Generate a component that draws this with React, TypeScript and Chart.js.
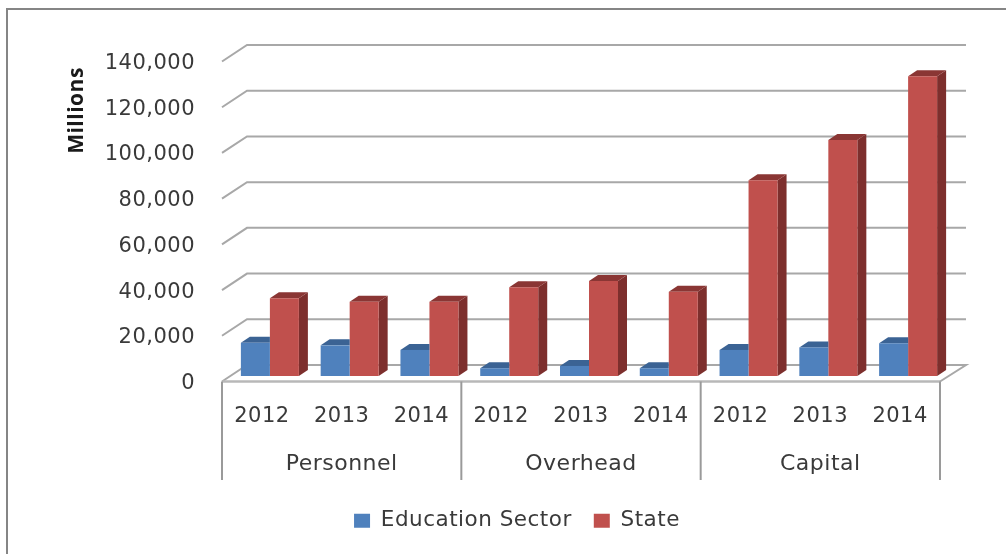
import React, { useEffect, useRef } from "react";
import { Chart, registerables } from "chart.js";

Chart.register(...registerables);

const yearLabels = ["2012", "2013", "2014", "2012", "2013", "2014", "2012", "2013", "2014"];
const groupLabels = ["Personnel", "Overhead", "Capital"];
const educationSector = [14600, 13400, 11400, 3400, 4400, 3400, 11400, 12500, 14300];
const stateValues = [34000, 32500, 32500, 38800, 41600, 36900, 85600, 103300, 131100];
const FONT = "'DejaVu Sans'";
const TEXT = "#3a3a3a";
const GRID = "#a8a8a8";

const shade: Record<string, { side: string; top: string }> = {
  "#4F81BD": { side: "#3a6090", top: "#3b6394" },
  "#C0504D": { side: "#7d2f2d", top: "#8a3634" },
};

const spacing = (chart: any) => {
  chart.ctx.letterSpacing = "0.5px";
};

const scene = {
  id: "scene",
  beforeInit: spacing,
  beforeLayout: spacing,
  beforeDraw(chart: any) {
    spacing(chart);
    const { ctx } = chart;
    ctx.save();
    ctx.strokeStyle = "#858585";
    ctx.lineWidth = 2;
    ctx.beginPath();
    ctx.moveTo(7, 560);
    ctx.lineTo(7, 9);
    ctx.lineTo(1010, 9);
    ctx.stroke();
    ctx.restore();
  },
  beforeDatasetsDraw(chart: any) {
    const { ctx, chartArea: a, scales } = chart;
    const y = scales.y;
    const base = y.getPixelForValue(0);
    ctx.save();
    ctx.strokeStyle = GRID;
    ctx.lineWidth = 2;
    y.ticks.forEach((t: any) => {
      const p = y.getPixelForValue(t.value);
      ctx.beginPath();
      ctx.moveTo(a.left - 8, p + 5.5);
      ctx.lineTo(a.left + 17, p - 11);
      ctx.lineTo(a.right + 18, p - 11);
      if (t.value === 0) {
        ctx.lineTo(a.right - 8, p + 5.5);
      }
      ctx.stroke();
    });
    ctx.strokeStyle = "#b8b8b8";
    ctx.lineWidth = 2.6;
    ctx.beginPath();
    ctx.moveTo(a.left - 8, base + 5.5);
    ctx.lineTo(a.right - 8, base + 5.5);
    ctx.stroke();
    ctx.strokeStyle = "#9a9a9a";
    ctx.lineWidth = 2;
    const n = groupLabels.length;
    for (let i = 0; i <= n; i++) {
      const x = a.left - 8 + ((a.right - a.left) * i) / n;
      ctx.beginPath();
      ctx.moveTo(x, base + 5.5);
      ctx.lineTo(x, 480);
      ctx.stroke();
    }
    ctx.restore();
  },
  beforeDatasetDraw(chart: any, args: any) {
    const { ctx } = chart;
    const ds = chart.data.datasets[args.index];
    const c = shade[ds.backgroundColor];
    const dx = 9;
    const dy = -6;
    // the first series stands directly in front of the second's left face,
    // so its side is hidden and its top stops at the neighbouring bar
    const hiddenSide = args.index === 0;
    ctx.save();
    args.meta.data.forEach((bar: any) => {
      const { x, y, base, width } = bar.getProps(["x", "y", "base", "width"], true);
      const l = x - width / 2;
      const r = x + width / 2;
      if (!hiddenSide) {
        ctx.fillStyle = c.side;
        ctx.beginPath();
        ctx.moveTo(r, y);
        ctx.lineTo(r + dx, y + dy);
        ctx.lineTo(r + dx, base + dy);
        ctx.lineTo(r, base);
        ctx.closePath();
        ctx.fill();
      }
      ctx.fillStyle = c.top;
      ctx.beginPath();
      ctx.moveTo(l, y);
      ctx.lineTo(l + dx, y + dy);
      ctx.lineTo(hiddenSide ? r : r + dx, y + dy);
      ctx.lineTo(r, y);
      ctx.closePath();
      ctx.fill();
    });
    ctx.restore();
  },
  afterDraw(chart: any) {
    const { ctx } = chart;
    ctx.save();
    ctx.translate(77, 110.5);
    ctx.rotate(-Math.PI / 2);
    ctx.font = "bold 21px 'Open Sans'";
    ctx.fillStyle = "#1a1a1a";
    ctx.textAlign = "center";
    ctx.textBaseline = "middle";
    ctx.fillText("Millions", 0, 0);
    ctx.restore();
  },
};

export default function App() {
  const ref = useRef<HTMLCanvasElement>(null);
  useEffect(() => {
    document.body.style.margin = "0";
    const chart = new Chart(ref.current as HTMLCanvasElement, {
      type: "bar",
      data: {
        labels: yearLabels,
        datasets: [
          { label: "Education Sector", data: educationSector, backgroundColor: "#4F81BD" },
          { label: "State", data: stateValues, backgroundColor: "#C0504D" },
        ],
      },
      options: {
        responsive: false,
        animation: false,
        layout: { padding: { left: 86, right: 58, top: 56, bottom: 12.5 } },
        datasets: { bar: { categoryPercentage: 0.727, barPercentage: 1 } },
        plugins: {
          tooltip: { enabled: false },
          title: { display: false },
          legend: {
            position: "bottom",
            labels: {
              boxWidth: 16,
              boxHeight: 14,
              padding: 22,
              color: TEXT,
              font: { family: FONT, size: 21.5 },
            },
          },
        },
        scales: {
          y: {
            min: 0,
            max: 140000,
            border: { display: false },
            grid: { display: false },
            afterFit: (s: any) => {
              s.width = 144;
            },
            ticks: {
              stepSize: 20000,
              padding: 27,
              labelOffset: 7.5,
              color: TEXT,
              font: { family: FONT, size: 21 },
              callback: (v: any) => Number(v).toLocaleString("en-US"),
            },
          },
          x: {
            border: { display: false },
            grid: { display: false },
            afterFit: (s: any) => {
              s.height = 62;
            },
            ticks: {
              autoSkip: false,
              maxRotation: 0,
              padding: 20,
              labelOffset: -8,
              color: TEXT,
              font: { family: FONT, size: 21 },
            },
          },
          x2: {
            type: "category",
            position: "bottom",
            labels: groupLabels,
            border: { display: false },
            grid: { display: false },
            afterFit: (s: any) => {
              s.height = 50;
            },
            ticks: {
              autoSkip: false,
              maxRotation: 0,
              padding: 5,
              labelOffset: -8,
              color: TEXT,
              font: { family: FONT, size: 22 },
            },
          },
        },
      } as any,
      plugins: [scene],
    });
    return () => chart.destroy();
  }, []);
  return (
    <canvas
      ref={ref}
      width={1006}
      height={554}
      style={{ display: "block", position: "fixed", left: 0, top: 0, background: "#fff", filter: "blur(0.6px)" }}
    />
  );
}
